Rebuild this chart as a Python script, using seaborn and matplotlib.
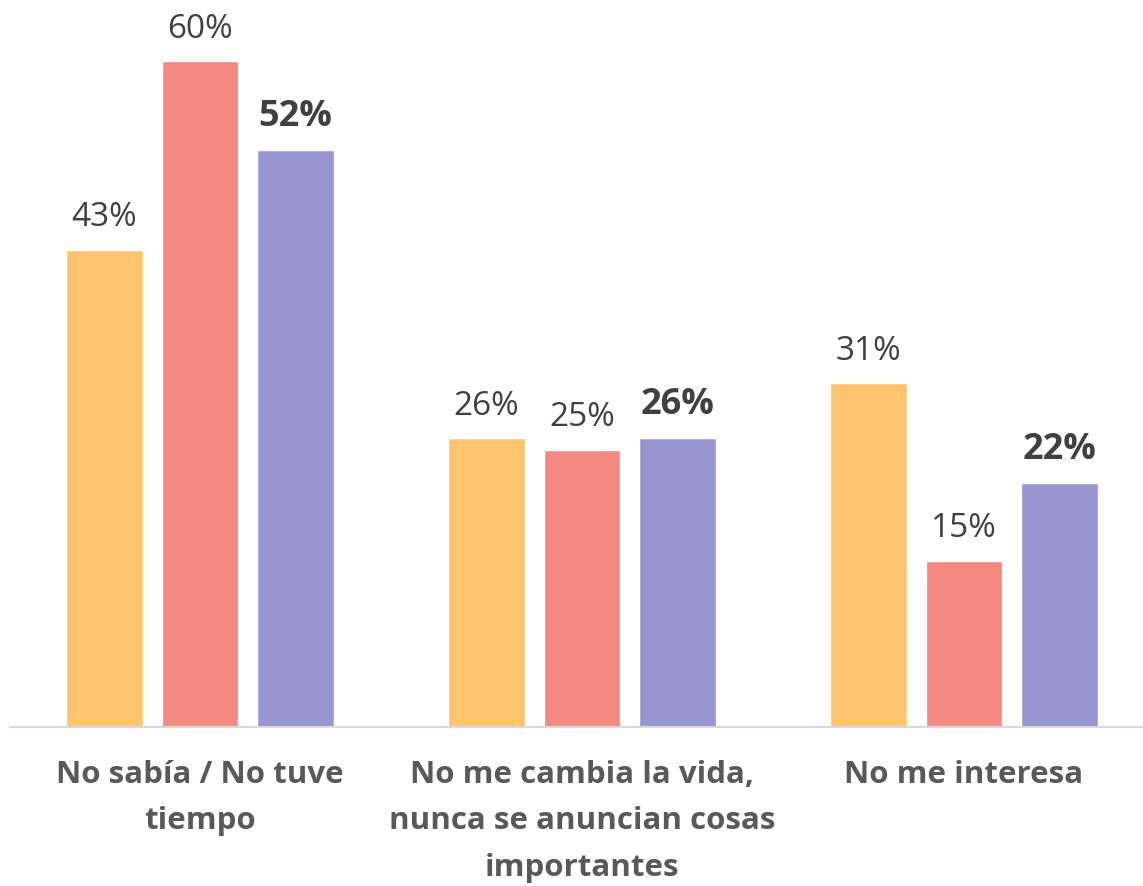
import numpy as np
import pandas as pd
import matplotlib
matplotlib.use("Agg")
import matplotlib.pyplot as plt
import seaborn as sns

# Data
categories = ["No sabía / No tuve\ntiempo",
              "No me cambia la vida,\nnunca se anuncian cosas\nimportantes",
              "No me interesa"]
series = ["Serie 1", "Serie 2", "Serie 3"]
values_s1 = [43, 26, 31]
values_s2 = [60, 25, 15]
values_s3 = [52, 26, 22]
colors = ["#FFC470", "#F28A82", "#9896D0"]

df = pd.DataFrame({
    "categoria": categories * 3,
    "serie": [series[0]] * 3 + [series[1]] * 3 + [series[2]] * 3,
    "valor": values_s1 + values_s2 + values_s3,
})

sns.set_style("white")
plt.rcParams["font.family"] = ["Open Sans", "DejaVu Sans"]

fig = plt.figure(figsize=(11.43, 8.86), dpi=100)
ax = fig.add_axes([10 / 1143, 1 - 727 / 886, 1 - 10 / 1143, 727 / 886])

sns.barplot(data=df, x="categoria", y="valor", hue="serie", order=categories,
            hue_order=series, palette=colors, width=0.75, gap=0.2,
            saturation=1, legend=False, ax=ax)

ax.set_xlim(-0.497, 2.469)
ax.set_ylim(0, 65.5)

# value labels
for i, cont in enumerate(ax.containers):
    bold = i == 2
    for bar in cont:
        h = bar.get_height()
        ax.annotate(f"{h:.0f}%", (bar.get_x() + bar.get_width() / 2, h),
                    xytext=(0, 11), textcoords="offset points",
                    ha="center", va="bottom",
                    fontsize=26 if bold else 24,
                    fontweight="bold" if bold else "normal",
                    color="#404040")

sns.despine(ax=ax, left=True)
ax.spines["bottom"].set_color("#D9D9D9")
ax.spines["bottom"].set_linewidth(1.5)
ax.set_yticks([])
ax.set_xlabel("")
ax.set_ylabel("")
ax.tick_params(axis="x", length=0, pad=24)
for lab in ax.get_xticklabels():
    lab.set_fontsize(22.5)
    lab.set_fontweight("bold")
    lab.set_color("#595959")
    lab.set_linespacing(1.7)
    lab.set_verticalalignment("top")

fig.savefig("out.png", dpi=100)
